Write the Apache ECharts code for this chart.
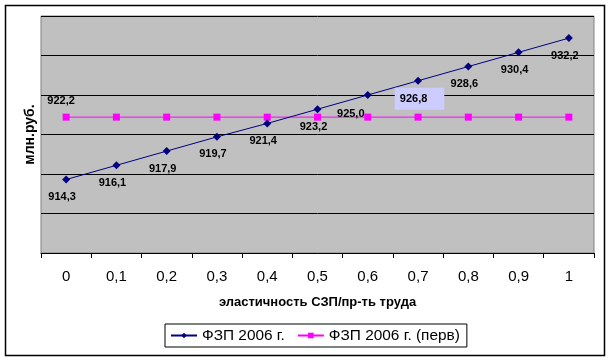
<!DOCTYPE html>
<html>
<head>
<meta charset="utf-8">
<script src="https://cdn.jsdelivr.net/npm/echarts@6/dist/echarts.min.js"></script>
<style>html,body{margin:0;padding:0;background:#fff;}#c{width:611px;height:361px;}</style>
</head>
<body>
<div id="c"></div>
<script>
var categories = ['0','0,1','0,2','0,3','0,4','0,5','0,6','0,7','0,8','0,9','1'];
var fzp2006 = [914.3, 916.1, 917.9, 919.7, 921.4, 923.2, 925.0, 926.8, 928.6, 930.4, 932.2];
var fzp2006perv = [922.2, 922.2, 922.2, 922.2, 922.2, 922.2, 922.2, 922.2, 922.2, 922.2, 922.2];
var seriesNames = ['ФЗП 2006 г.', 'ФЗП 2006 г. (перв)'];
var xTitle = 'эластичность СЗП/пр-ть труда';
var yTitle = 'млн.руб.';

function fmt(v){ return v.toFixed(1).replace('.', ','); }

var blueData = fzp2006.map(function(v, i){
  var d = {value: v};
  if (i === 6) d.label = {offset: [-17, 1]};
  if (i === 7) d.label = {offset: [1.5, 0], distance: 3, backgroundColor: '#CCCCFF', padding: [6, 17, 5, 5]};
  return d;
});
var pinkData = fzp2006perv.map(function(v, i){
  var d = {value: v};
  if (i === 0) d.label = {show: true, position: 'top', distance: 7, offset: [-5, 0], formatter: function(p){return fmt(p.value);}, fontWeight: 'bold', fontSize: 11, color: '#000', fontFamily: 'Liberation Sans'};
  return d;
});

var chart = echarts.init(document.getElementById('c'), null, {renderer: 'canvas'});
chart.setOption({
  backgroundColor: '#ffffff',
  animation: false,
  textStyle: {fontFamily: 'Liberation Sans'},
  graphic: [{
    type: 'rect', shape: {x: 5.5, y: 5.5, width: 599, height: 350},
    style: {fill: 'none', stroke: '#000', lineWidth: 1.5}, z: -1
  }],
  grid: {left: 41, right: 17, top: 16, bottom: 108, show: true, backgroundColor: '#C0C0C0', borderColor: '#808080', borderWidth: 1},
  xAxis: {
    type: 'category', data: categories, boundaryGap: true,
    axisLine: {show: true, lineStyle: {color: '#000', width: 1}},
    axisTick: {show: true, length: 5, lineStyle: {color: '#000'}, interval: 0},
    axisLabel: {fontSize: 15, color: '#000', margin: 16, interval: 0, fontFamily: 'Liberation Sans'},
    name: xTitle, nameLocation: 'middle', nameGap: 43,
    nameTextStyle: {fontSize: 13, fontWeight: 'bold', color: '#000', fontFamily: 'Liberation Sans'}
  },
  yAxis: {
    type: 'value', min: 905, max: 935, interval: 5,
    axisLine: {show: false}, axisTick: {show: false}, axisLabel: {show: false},
    splitLine: {show: true, lineStyle: {color: '#000', width: 1}},
    name: yTitle, nameLocation: 'middle', nameGap: 4, nameRotate: 90,
    nameTextStyle: {fontSize: 14, fontWeight: 'bold', color: '#000', fontFamily: 'Liberation Sans'}
  },
  legend: {
    left: 165, top: 324, padding: [4, 7, 4, 5], itemGap: 12,
    borderColor: '#000', borderWidth: 1, itemWidth: 26, itemHeight: 7,
    textStyle: {fontSize: 15.4, color: '#000', fontFamily: 'Liberation Sans'},
    data: seriesNames
  },
  series: [{
    name: seriesNames[0], type: 'line', data: blueData,
    symbol: 'diamond', symbolSize: 8,
    lineStyle: {color: '#000080', width: 1}, itemStyle: {color: '#000080'},
    label: {show: true, position: 'bottom', distance: 8, offset: [-4, 0], formatter: function(p){return fmt(p.value);}, fontWeight: 'bold', fontSize: 11, color: '#000', fontFamily: 'Liberation Sans'},
    z: 3
  }, {
    name: seriesNames[1], type: 'line', data: pinkData,
    symbol: 'rect', symbolSize: 7,
    lineStyle: {color: '#FF00FF', width: 1}, itemStyle: {color: '#FF00FF'},
    label: {show: false},
    z: 2
  }]
});
</script>
</body>
</html>
